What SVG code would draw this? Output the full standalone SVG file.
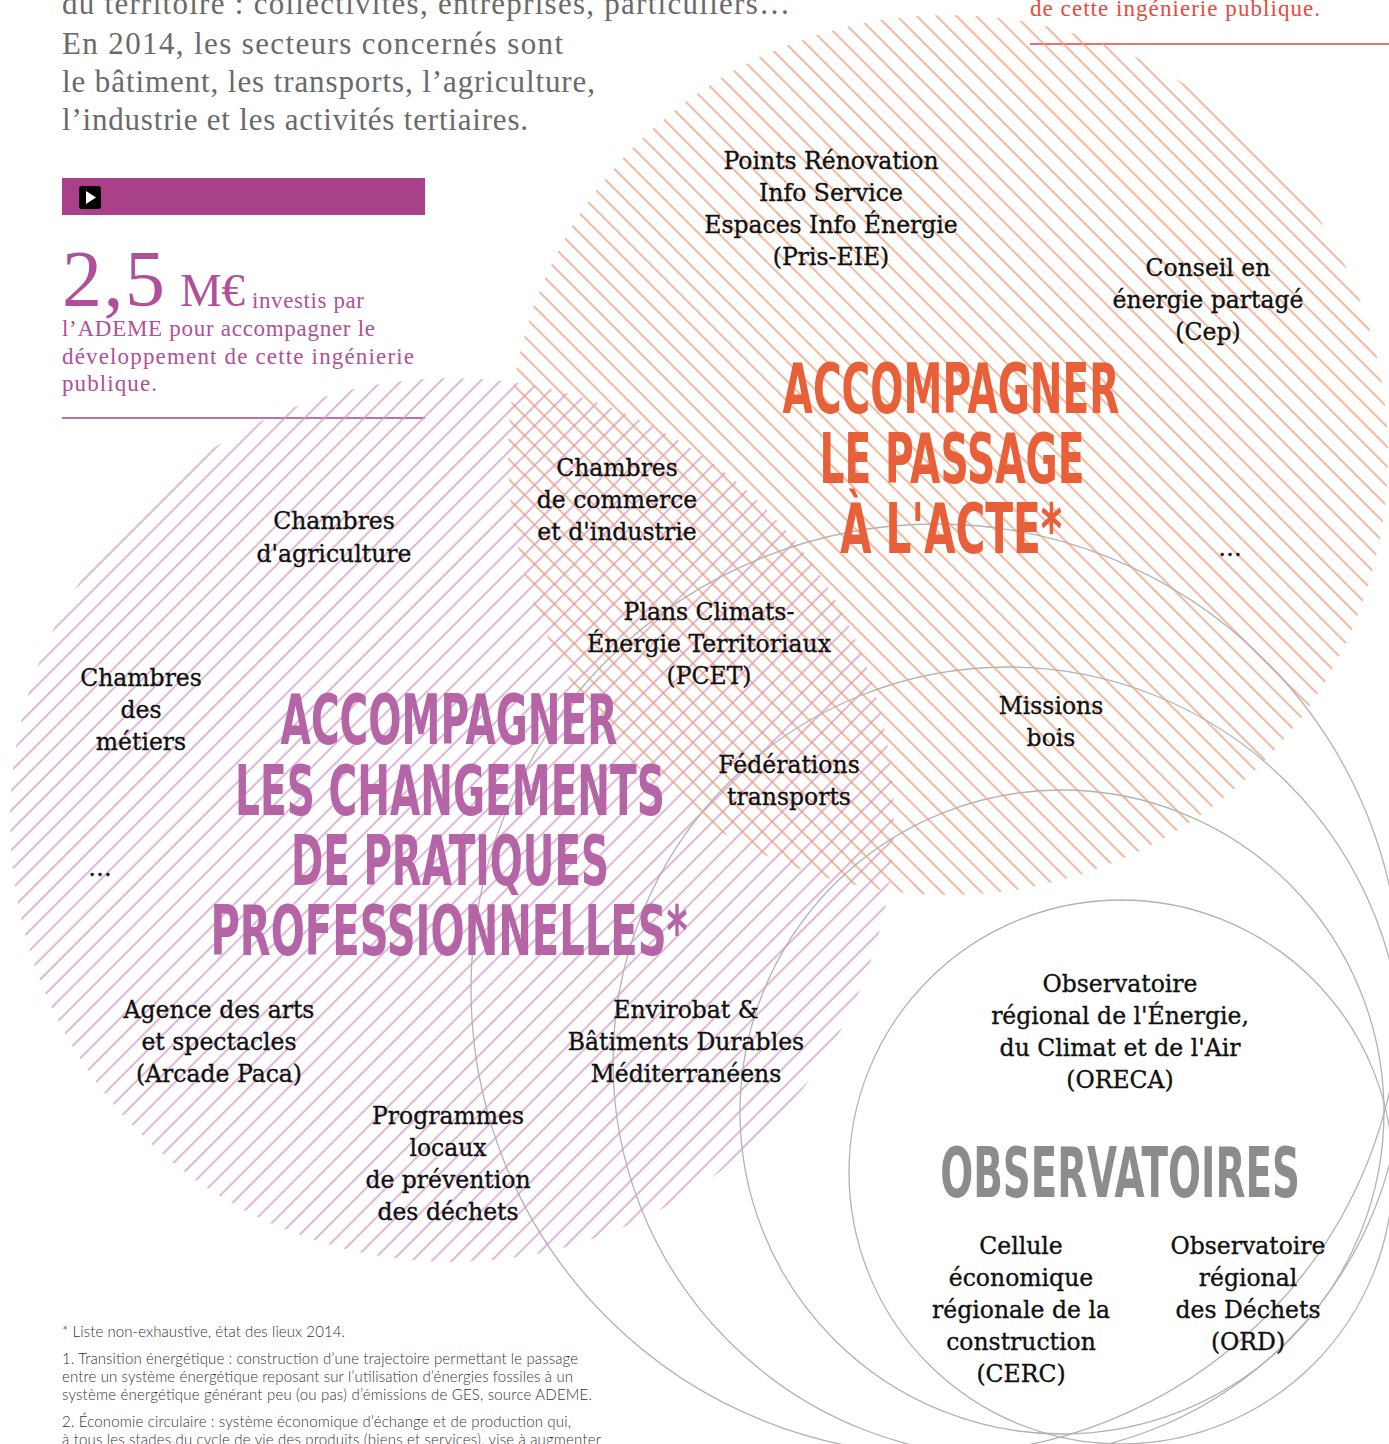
<svg xmlns="http://www.w3.org/2000/svg" width="1389" height="1444" viewBox="0 0 1389 1444">
<style>
.intro{font-family:"Liberation Serif","DejaVu Serif",serif;font-size:31px;fill:#6a6a6a}
.stat{font-family:"Liberation Serif","DejaVu Serif",serif;fill:#b0509a}
.lbl{font-family:"DejaVu Serif","Liberation Serif",serif;font-size:23.5px;fill:#111;stroke:#111;stroke-width:0.35;text-anchor:middle}
.big{font-family:"DejaVu Sans","Liberation Sans",sans-serif;font-weight:bold;font-size:70px;text-anchor:middle}
.org{fill:#e8603a}
.pur{fill:#b565a5}
.gry{fill:#8c8c8c}
.note{font-family:"Lato","Liberation Sans",sans-serif;font-weight:300;font-size:15px;fill:#333}
.ring{fill:none;stroke:#b3b3b3;stroke-width:1.3}
</style>
<defs>
<pattern id="hPur" patternUnits="userSpaceOnUse" width="14" height="14" patternTransform="rotate(45)">
<line x1="7" y1="0" x2="7" y2="14" stroke="#d597c9" stroke-width="1.4"/>
</pattern>
<pattern id="hOrg" patternUnits="userSpaceOnUse" width="14" height="14" patternTransform="rotate(-45)">
<line x1="7" y1="0" x2="7" y2="14" stroke="#f39a72" stroke-width="1.4"/>
</pattern>
</defs>
<rect width="1389" height="1444" fill="#fff"/>

<g id="intro">
<text class="intro" x="62" y="14" textLength="728">du territoire : collectivités, entreprises, particuliers…</text>
<text class="intro" x="62" y="54" textLength="501">En 2014, les secteurs concernés sont</text>
<text class="intro" x="62" y="92" textLength="533">le bâtiment, les transports, l’agriculture,</text>
<text class="intro" x="62" y="130" textLength="466">l’industrie et les activités tertiaires.</text>
</g>

<g id="top-right-note">
<text x="1030" y="16" font-family="Liberation Serif, DejaVu Serif, serif" font-size="23px" fill="#e84a3c" textLength="290">de cette ingénierie publique.</text>
<line x1="1030" y1="44" x2="1389" y2="44" stroke="#e8403a" stroke-width="1.5"/>
</g>

<g id="play-bar">
<rect x="62" y="178" width="363" height="37" fill="#a8408a"/>
<rect x="79" y="186" width="22" height="23" rx="3" fill="#000"/>
<polygon points="86,191 86,204 96,197.5" fill="#fff"/>
</g>

<g id="stat">
<text class="stat" x="62" y="306" font-size="80px" textLength="103">2,5</text>
<text class="stat" x="180" y="306" font-size="47px" textLength="65">M€</text>
<text class="stat" x="252" y="308" font-size="23px" textLength="112">investis par</text>
<text class="stat" x="62" y="336" font-size="23px" textLength="313">l’ADEME pour accompagner le</text>
<text class="stat" x="62" y="364" font-size="23px" textLength="352">développement de cette ingénierie</text>
<text class="stat" x="62" y="391" font-size="23px" textLength="95">publique.</text>
<line x1="62" y1="418" x2="425" y2="418" stroke="#a8408a" stroke-width="1.3"/>
</g>

<g id="zone-pratiques">
<circle cx="452" cy="820" r="442" fill="url(#hPur)"/>
</g>
<g id="zone-passage">
<circle cx="948" cy="455" r="440" fill="url(#hOrg)"/>
</g>

<g id="rings">
<circle class="ring" cx="936" cy="989" r="465"/>
<circle class="ring" cx="1008" cy="1062" r="395"/>
<circle class="ring" cx="1062" cy="1112" r="322"/>
<circle class="ring" cx="1121" cy="1172" r="272"/>
</g>

<g id="connectors"></g>

<g id="title-passage">
<text class="big org" transform="translate(951,413) scale(0.553,1)" textLength="609" lengthAdjust="spacingAndGlyphs">ACCOMPAGNER</text>
<text class="big org" transform="translate(952,483) scale(0.549,1)" textLength="483" lengthAdjust="spacingAndGlyphs">LE PASSAGE</text>
<text class="big org" transform="translate(951,553) scale(0.580,1)" textLength="383" lengthAdjust="spacingAndGlyphs">À L'ACTE*</text>
</g>

<g id="title-pratiques">
<text class="big pur" transform="translate(449,744) scale(0.553,1)" textLength="609" lengthAdjust="spacingAndGlyphs">ACCOMPAGNER</text>
<text class="big pur" transform="translate(450,815) scale(0.559,1)" textLength="769" lengthAdjust="spacingAndGlyphs">LES CHANGEMENTS</text>
<text class="big pur" transform="translate(450,885) scale(0.550,1)" textLength="578" lengthAdjust="spacingAndGlyphs">DE PRATIQUES</text>
<text class="big pur" transform="translate(449,955) scale(0.572,1)" textLength="834" lengthAdjust="spacingAndGlyphs">PROFESSIONNELLES*</text>
</g>

<g id="title-observatoires">
<text class="big gry" transform="translate(1120,1197) scale(0.571,1)" font-size="67px" textLength="630" lengthAdjust="spacingAndGlyphs">OBSERVATOIRES</text>
</g>

<g id="n-pris-eie">
<text class="lbl" x="831" y="169">Points Rénovation</text>
<text class="lbl" x="831" y="201">Info Service</text>
<text class="lbl" x="831" y="233">Espaces Info Énergie</text>
<text class="lbl" x="831" y="265">(Pris-EIE)</text>
</g>
<g id="n-cep">
<text class="lbl" x="1208" y="276">Conseil en</text>
<text class="lbl" x="1208" y="308">énergie partagé</text>
<text class="lbl" x="1208" y="340">(Cep)</text>
</g>
<g id="n-etc-passage">
<text class="lbl" x="1230" y="556">…</text>
</g>
<g id="n-cci">
<text class="lbl" x="617" y="476">Chambres</text>
<text class="lbl" x="617" y="508">de commerce</text>
<text class="lbl" x="617" y="540">et d'industrie</text>
</g>
<g id="n-pcet">
<text class="lbl" x="709" y="620">Plans Climats-</text>
<text class="lbl" x="709" y="652">Énergie Territoriaux</text>
<text class="lbl" x="709" y="684">(PCET)</text>
</g>
<g id="n-missions-bois">
<text class="lbl" x="1051" y="714">Missions</text>
<text class="lbl" x="1051" y="746">bois</text>
</g>
<g id="n-federations">
<text class="lbl" x="789" y="773">Fédérations</text>
<text class="lbl" x="789" y="805">transports</text>
</g>
<g id="n-agriculture">
<text class="lbl" x="334" y="529">Chambres</text>
<text class="lbl" x="334" y="562">d'agriculture</text>
</g>
<g id="n-metiers">
<text class="lbl" x="141" y="686">Chambres</text>
<text class="lbl" x="141" y="718">des</text>
<text class="lbl" x="141" y="750">métiers</text>
</g>
<g id="n-etc-pratiques">
<text class="lbl" x="100" y="876">…</text>
</g>
<g id="n-arcade">
<text class="lbl" x="219" y="1018">Agence des arts</text>
<text class="lbl" x="219" y="1050">et spectacles</text>
<text class="lbl" x="219" y="1082">(Arcade Paca)</text>
</g>
<g id="n-envirobat">
<text class="lbl" x="686" y="1018">Envirobat &amp;</text>
<text class="lbl" x="686" y="1050">Bâtiments Durables</text>
<text class="lbl" x="686" y="1082">Méditerranéens</text>
</g>
<g id="n-dechets">
<text class="lbl" x="448" y="1124">Programmes</text>
<text class="lbl" x="448" y="1156">locaux</text>
<text class="lbl" x="448" y="1188">de prévention</text>
<text class="lbl" x="448" y="1220">des déchets</text>
</g>
<g id="n-oreca">
<text class="lbl" x="1120" y="992">Observatoire</text>
<text class="lbl" x="1120" y="1024">régional de l'Énergie,</text>
<text class="lbl" x="1120" y="1056">du Climat et de l'Air</text>
<text class="lbl" x="1120" y="1088">(ORECA)</text>
</g>
<g id="n-cerc">
<text class="lbl" x="1021" y="1254">Cellule</text>
<text class="lbl" x="1021" y="1286">économique</text>
<text class="lbl" x="1021" y="1318">régionale de la</text>
<text class="lbl" x="1021" y="1350">construction</text>
<text class="lbl" x="1021" y="1382">(CERC)</text>
</g>
<g id="n-ord">
<text class="lbl" x="1248" y="1254">Observatoire</text>
<text class="lbl" x="1248" y="1286">régional</text>
<text class="lbl" x="1248" y="1318">des Déchets</text>
<text class="lbl" x="1248" y="1350">(ORD)</text>
</g>

<g id="footnotes">
<text class="note" x="62" y="1337" textLength="283">* Liste non-exhaustive, état des lieux 2014.</text>
<text class="note" x="62" y="1364" textLength="516">1. Transition énergétique : construction d’une trajectoire permettant le passage</text>
<text class="note" x="62" y="1382" textLength="511">entre un système énergétique reposant sur l’utilisation d’énergies fossiles à un</text>
<text class="note" x="62" y="1400" textLength="530">système énergétique générant peu (ou pas) d’émissions de GES, source ADEME.</text>
<text class="note" x="62" y="1427" textLength="509">2. Économie circulaire : système économique d’échange et de production qui,</text>
<text class="note" x="62" y="1445" textLength="539">à tous les stades du cycle de vie des produits (biens et services), vise à augmenter</text>
</g>
</svg>
